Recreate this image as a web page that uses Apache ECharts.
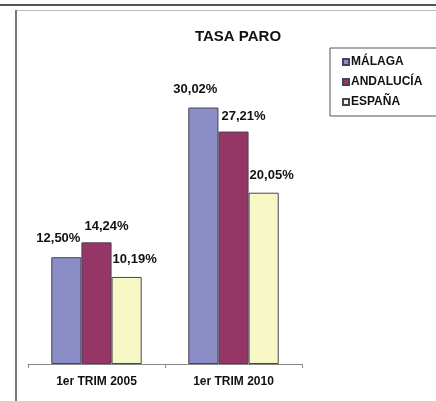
<!DOCTYPE html>
<html>
<head>
<meta charset="utf-8">
<script src="https://cdn.jsdelivr.net/npm/echarts@6/dist/echarts.min.js"></script>
<style>
  html, body { margin: 0; padding: 0; background: #fff; }
  #chart { width: 436px; height: 401px; }
</style>
</head>
<body>
<div id="chart"></div>
<script>
// datos
var categories = ['1er TRIM 2005', '1er TRIM 2010'];
var malaga = [12.50, 30.02];
var andalucia = [14.24, 27.21];
var espana = [10.19, 20.05];
var seriesNames = ['MÁLAGA', 'ANDALUCÍA', 'ESPAÑA'];

var colors = ['#8b8ec6', '#963666', '#f8f7c6'];
var font = 'Liberation Sans, Arial, sans-serif';

var myChart = echarts.init(document.getElementById('chart'), null, { renderer: 'canvas' });

function fmt(p) {
  return p.value.toFixed(2).replace('.', ',') + '%';
}

function barSeries(name, data, color, offset) {
  return {
    name: name,
    type: 'bar',
    data: data,
    barGap: '0%',
    barCategoryGap: '34%',
    itemStyle: { color: color, borderColor: '#444455', borderWidth: 1 },
    label: {
      show: true,
      position: 'top',
      offset: offset,
      formatter: fmt,
      fontFamily: font,
      fontWeight: 'bold',
      fontSize: 13,
      color: '#111'
    }
  };
}

var option = {
  animation: false,
  backgroundColor: '#fff',
  title: {
    text: 'TASA PARO',
    left: 233,
    top: 24,
    textAlign: 'center',
    textStyle: { fontFamily: font, fontWeight: 'bold', fontSize: 15, color: '#111' }
  },
  legend: {
    orient: 'vertical',
    left: 330,
    top: 48,
    width: 100,
    padding: [8, 30, 8, 12],
    itemGap: 8,
    itemWidth: 6,
    itemHeight: 6,
    icon: 'rect',
    borderColor: '#555',
    borderWidth: 1,
    data: seriesNames,
    textStyle: { fontFamily: font, fontWeight: 'bold', fontSize: 12, color: '#111', padding: [0, 0, 0, -3] }
  },
  grid: {
    left: 28,
    right: 134,
    top: 65,
    bottom: 37,
    containLabel: false
  },
  xAxis: {
    type: 'category',
    data: categories,
    axisLine: { show: true, lineStyle: { color: '#888', width: 1 } },
    axisTick: { show: true, length: 4, lineStyle: { color: '#888' } },
    axisLabel: { fontFamily: font, fontWeight: 'bold', fontSize: 12, color: '#111', margin: 12 }
  },
  yAxis: {
    type: 'value',
    min: 0,
    max: 35,
    show: false
  },
  graphic: [
    { type: 'rect', shape: { x: 0, y: 4, width: 436, height: 2 }, style: { fill: '#555' } },
    { type: 'rect', shape: { x: 15, y: 10, width: 421, height: 1 }, style: { fill: '#bbb' } },
    { type: 'rect', shape: { x: 15, y: 10, width: 2, height: 391 }, style: { fill: '#777' } }
  ],
  series: [
    barSeries(seriesNames[0], malaga, colors[0], [-8, -7]),
    barSeries(seriesNames[1], andalucia, colors[1], [10, -4]),
    barSeries(seriesNames[2], espana, colors[2], [8, -6])
  ]
};

option && myChart.setOption(option);
</script>
</body>
</html>
